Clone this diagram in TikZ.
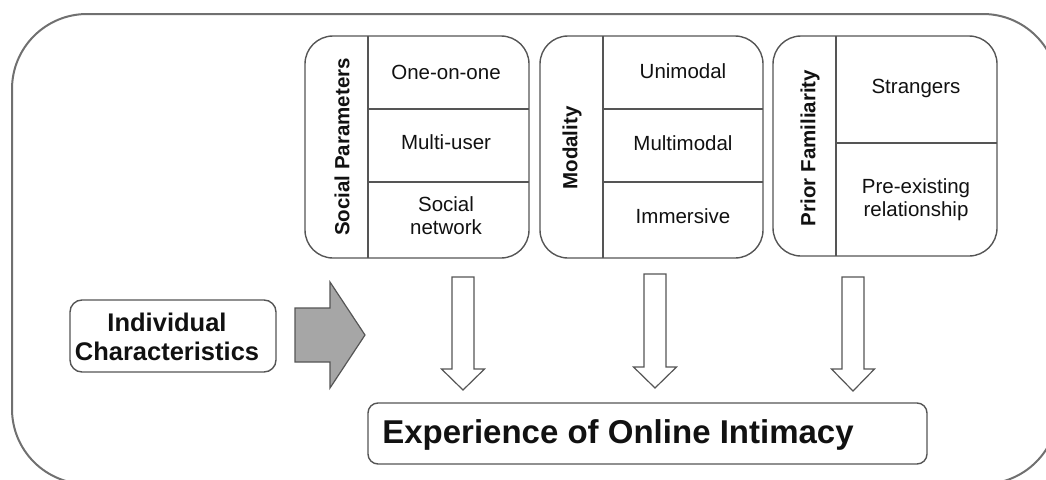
\documentclass[tikz,border=0pt]{standalone}
\usepackage{fontspec}
\setmainfont{Liberation Sans}
\usetikzlibrary{calc}
\definecolor{linegray}{HTML}{555555}
\definecolor{outergray}{HTML}{707070}
\definecolor{arrowfill}{HTML}{A6A6A6}
\definecolor{textc}{HTML}{111111}
\begin{document}
\begin{tikzpicture}[x=1pt,y=-1pt,
  outerbox/.style={draw=outergray,line width=2pt,rounded corners=75pt},
  grp/.style={draw=linegray,line width=1.4pt,rounded corners=28pt,inner sep=0pt},
  cellline/.style={draw=linegray,line width=1.4pt},
  item/.style={font=\fontsize{20.5}{24}\selectfont,align=center,text=textc,inner sep=0pt},
  headtxt/.style={font=\bfseries\fontsize{20.5}{24}\selectfont,rotate=90,text=textc,inner sep=0pt},
  smallbox/.style={draw=linegray,line width=1.4pt,rounded corners=12pt,inner sep=0pt},
  bigtxt/.style={font=\bfseries\fontsize{25.5}{29}\selectfont,align=center,text=textc,inner sep=0pt},
  hugetxt/.style={font=\bfseries\fontsize{33}{38}\selectfont,text=textc,inner sep=0pt},
  grayarrow/.style={draw=linegray,line width=1.2pt,fill=arrowfill,line join=miter},
  whitearrow/.style={draw=linegray,line width=1.2pt,fill=white,line join=miter}
]
\useasboundingbox (0,0) rectangle (1046,479);
\draw[outerbox] (12,14) rectangle (1058,484);

% Social Parameters group
\node[grp,minimum width=224pt,minimum height=222pt] (sp) at (417,147) {};
\draw[cellline] (368,36) -- (368,258);
\draw[cellline] (368,109) -- (529,109);
\draw[cellline] (368,182) -- (529,182);
\node[headtxt] (sph) at (342,147) {Social Parameters};
\node[item] (sp1) at (446,72) {One-on-one};
\node[item] (sp2) at (446,142) {Multi-user};
\node[item] (sp3) at (446,216) {Social\\[-1pt]network};

% Modality group
\node[grp,minimum width=223pt,minimum height=222pt] (mo) at (651.5,147) {};
\draw[cellline] (603,36) -- (603,258);
\draw[cellline] (603,109) -- (763,109);
\draw[cellline] (603,182) -- (763,182);
\node[headtxt] (moh) at (572,148) {Modality};
\node[item] (mo1) at (683,71) {Unimodal};
\node[item] (mo2) at (683,143) {Multimodal};
\node[item] (mo3) at (683,216) {Immersive};

% Prior Familiarity group
\node[grp,minimum width=224pt,minimum height=220pt] (pf) at (885,146) {};
\draw[cellline] (836,36) -- (836,256);
\draw[cellline] (836,143) -- (997,143);
\node[headtxt] (pfh) at (810,148) {Prior Familiarity};
\node[item] (pf1) at (916,88) {Strangers};
\node[item] (pf2) at (916,200) {Pre-existing\\[-1pt]relationship};

% Individual characteristics
\node[smallbox,minimum width=206pt,minimum height=72pt] (ic) at (173,336) {};
\node[bigtxt] (ict) at (167,337) {Individual\\Characteristics};

% Experience
\node[draw=linegray,line width=1.4pt,rounded corners=10pt,minimum width=559pt,minimum height=61pt,inner sep=0pt] (ex) at (647.5,433.5) {};
\node[hugetxt] (ext) at (618,435) {Experience of Online Intimacy};

% gray block arrow
\coordinate (g0) at (295,335);
\draw[grayarrow] (g0) ++(0,-27) -- ++(35,0) -- ++(0,-26) -- ++(35,53) -- ++(-35,53) -- ++(0,-26) -- ++(-35,0) -- cycle;

% white down arrows
\coordinate (a1) at (463,277);
\coordinate (a2) at (655,274);
\coordinate (a3) at (853,277);
\draw[whitearrow] (a1) ++(-11,0) -- ++(22,0) -- ++(0,92) -- ++(10.5,0) -- ++(-21.5,21) -- ++(-21.5,-21) -- ++(10.5,0) -- cycle;
\draw[whitearrow] (a2) ++(-11,0) -- ++(22,0) -- ++(0,93) -- ++(10.5,0) -- ++(-21.5,21) -- ++(-21.5,-21) -- ++(10.5,0) -- cycle;
\draw[whitearrow] (a3) ++(-11,0) -- ++(22,0) -- ++(0,92) -- ++(10.5,0) -- ++(-21.5,22) -- ++(-21.5,-22) -- ++(10.5,0) -- cycle;
\end{tikzpicture}
\end{document}
